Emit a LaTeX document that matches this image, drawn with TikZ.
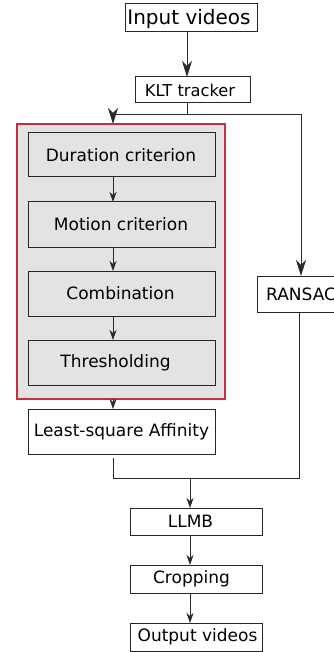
\documentclass[tikz,border=0pt]{standalone}
\usepackage{fontspec}
\setmainfont{DejaVu Sans}
\usetikzlibrary{arrows.meta,calc}
\definecolor{boxgray}{HTML}{E3E3E3}
\definecolor{framered}{HTML}{C4313B}
\definecolor{wire}{HTML}{2A2A2A}
\tikzset{
  box/.style={draw=black!85, line width=1pt, inner sep=0pt, outer sep=0pt, anchor=center},
  graybox/.style={box, fill=boxgray},
  lbl/.style={inner sep=0pt, font=\fontsize{17}{20}\selectfont},
  wirel/.style={draw=wire, line width=0.9pt},
  bigarrow/.style={wirel, -{Stealth[length=16pt,width=10pt,inset=5pt]}},
  smallarrow/.style={wirel, -{Stealth[length=10pt,width=7pt,inset=3pt]}},
}
\begin{document}
\begin{tikzpicture}[x=1pt,y=-1pt]
\useasboundingbox (0,0) rectangle (334,652);

% top of the pipeline
\node[box, minimum width=132pt, minimum height=28pt] (in) at (191,18) {};
\node[lbl, font=\fontsize{20}{24}\selectfont] at (189,19) {Input videos};
\node[box, minimum width=115pt, minimum height=26pt] (klt) at (192.5,90) {};
\node[lbl, font=\fontsize{16.3}{20}\selectfont] at (190,90.5) {KLT tracker};

% red frame holding the selection steps
\node[draw=framered, line width=1.4pt, fill=boxgray, minimum width=208pt, minimum height=275pt, inner sep=0pt, outer sep=0pt] (frame) at (121,261.5) {};
\node[graybox, minimum width=187pt, minimum height=44pt] (dur) at (121.5,155) {};
\node[lbl] at (121,155) {Duration criterion};
\node[graybox, minimum width=187pt, minimum height=45pt] (mot) at (121.5,224.5) {};
\node[lbl] at (121,224.5) {Motion criterion};
\node[graybox, minimum width=187pt, minimum height=45pt] (comb) at (121.5,293.5) {};
\node[lbl] at (120.5,293.5) {Combination};
\node[graybox, minimum width=187pt, minimum height=45pt] (thr) at (121.5,362.5) {};
\node[lbl] at (115.5,362.5) {Thresholding};

\node[box, minimum width=187pt, minimum height=45pt] (lsa) at (121.5,431.5) {};
\node[lbl] at (121.5,431.5) {Least-square Affinity};

\node[box, minimum width=90pt, minimum height=36pt] (ransac) at (302,294) {};
\node[lbl, anchor=west] at (266,294.5) {RANSAC};

% bottom of the pipeline
\node[box, minimum width=132pt, minimum height=27pt] (llmb) at (196,521.5) {};
\node[lbl] at (190.5,521.5) {LLMB};
\node[box, minimum width=132pt, minimum height=28pt] (crop) at (196,579) {};
\node[lbl] at (191.5,579) {Cropping};
\node[box, minimum width=132pt, minimum height=28pt] (out) at (196,637) {};
\node[lbl] at (197.5,637) {Output videos};

% guide coordinates for the connectors
\coordinate (spine) at (113,0);
\coordinate (rspine) at (301,0);
\coordinate (split) at (187,114);
\coordinate (merge) at (190,478);
\coordinate (lsaend) at (113,458);
\coordinate (rsend) at (299,478);

% connectors
\draw[bigarrow] (in.south -| split) -- (klt.north -| split);
\draw[wirel] (klt.south -| split) -- (split);
\draw[bigarrow] (split) -- (split -| spine) -- (frame.north -| spine);
\draw[bigarrow] (split) -- (split -| rspine) -- (ransac.north -| rspine);
\draw[smallarrow] (dur.south -| spine) -- (mot.north -| spine);
\draw[smallarrow] (mot.south -| spine) -- (comb.north -| spine);
\draw[smallarrow] (comb.south -| spine) -- (thr.north -| spine);
\draw[smallarrow] (frame.south -| spine) -- (lsa.north -| spine);
\draw[wirel] (lsaend) -- (merge -| lsaend) -- (rsend) -- (ransac.south -| rsend);
\draw[smallarrow] (merge) -- (llmb.north -| merge);
\draw[smallarrow] (llmb.south -| merge) -- (crop.north -| merge);
\draw[smallarrow] (crop.south -| merge) -- (out.north -| merge);
\end{tikzpicture}
\end{document}
